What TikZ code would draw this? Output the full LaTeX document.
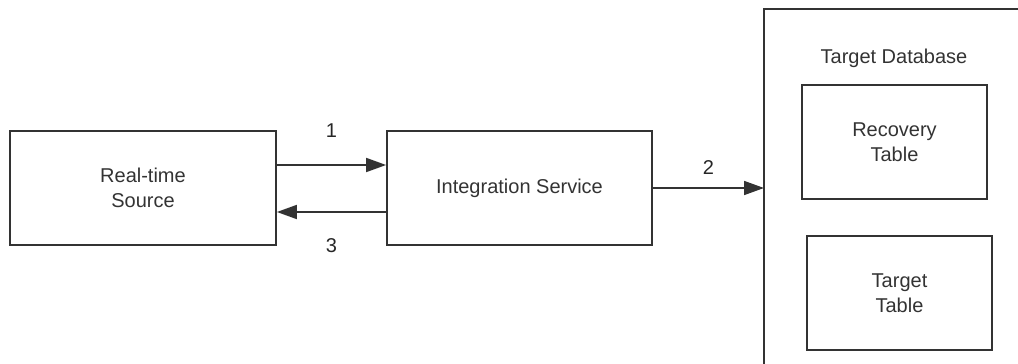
\documentclass[tikz,border=0pt]{standalone}
\usepackage{fontspec}
\setmainfont{Liberation Sans}
\usetikzlibrary{arrows.meta}
\tikzset{
    box/.style={draw=black!80, line width=1.3pt, inner sep=0pt, align=center,
      minimum width=#1*0.75pt, minimum height=85.5pt},
    box/.default=266,
    arr/.style={draw=black!80, line width=1.3pt, -{Triangle[length=15pt,width=10.5pt]}},
    num/.style={text=black!85},
  }

\begin{document}
\begin{tikzpicture}[x=0.75pt, y=-0.75pt, font=\fontsize{15}{18.5}\selectfont, text=black!80]
				  %cadre
				  \useasboundingbox (0,0) rectangle (1018,364);
				  \node[box=266] (src) at (143,188) {Real-time\\Source};
				  \node[box=265] (svc) at (519.5,188) {Integration Service};
				  \node[box=185] (rtab) at (894.5,142) {Recovery\\Table};
				  \node[box=185] (ttab) at (899.5,293) {Target\\Table};
				  \node (tdb) at (894,58) {Target Database};
				  \coordinate (tdbin) at (764,188);

				  %base cible
				  \draw[draw=black!80, line width=1.3pt] (1018,9) -- (764,9) -- (764,364);

				  \draw[arr] ([yshift=17.25pt]src.east) -- node[num, above=17pt] {1} ([yshift=17.25pt]svc.west);
				  \draw[arr] ([yshift=-18pt]svc.west) -- node[num, below=16pt] {3} ([yshift=-18pt]src.east);
				  \draw[arr] (svc.east) -- node[num, above=6pt] {2} (tdbin);
				  \end{tikzpicture}
\end{document}
